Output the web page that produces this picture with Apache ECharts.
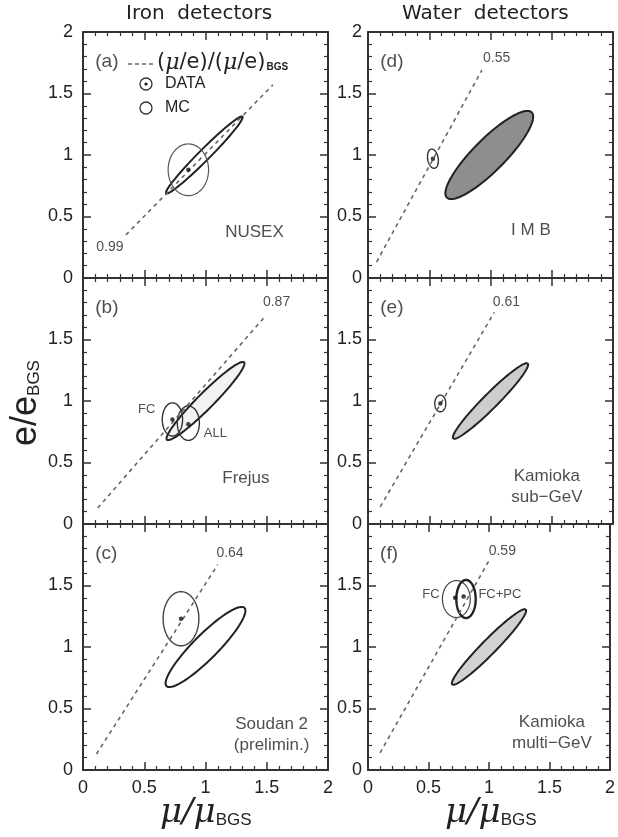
<!DOCTYPE html>
<html>
<head>
<meta charset="utf-8">
<script src="https://cdn.jsdelivr.net/npm/echarts@6/dist/echarts.min.js"></script>
<style>
  html, body { margin: 0; padding: 0; background: #fff; }
  #chart { width: 618px; height: 837px; }
</style>
</head>
<body>
<div id="chart"></div>
<script>
// panels row by row: (a) NUSEX, (d) IMB, (b) Frejus, (e) Kamioka sub-GeV, (c) Soudan 2, (f) Kamioka multi-GeV
var panelLetters = ['(a)', '(d)', '(b)', '(e)', '(c)', '(f)'];
var detectorNames = ['NUSEX', 'I M B', 'Frejus', 'Kamioka\nsub\u2212GeV', 'Soudan 2\n(prelimin.)', 'Kamioka\nmulti\u2212GeV'];
var ratioValues = ['0.99', '0.55', '0.87', '0.61', '0.64', '0.59'];
var axisTicks = [0, 0.5, 1, 1.5, 2];

// dashed (mu/e)/(mu/e)_BGS line: start and end points
var ratioLines = [
  [[0.35, 0.35], [1.55, 1.57]],
  [[0.07, 0.13], [0.93, 1.69]],
  [[0.12, 0.13], [1.48, 1.68]],
  [[0.10, 0.14], [1.03, 1.72]],
  [[0.11, 0.13], [1.10, 1.67]],
  [[0.10, 0.14], [1.01, 1.72]]
];

// MC ellipses: [cx, cy, semi-axis 1, semi-axis 2, angle deg]
var mcEllipses = [
  [0.99, 1.00, 0.44, 0.045, 45],
  [0.99, 1.00, 0.49, 0.13, 45],
  [1.00, 1.00, 0.445, 0.065, 45],
  [1.00, 1.00, 0.43, 0.06, 45],
  [1.00, 1.00, 0.45, 0.10, 45],
  [1.00, 1.00, 0.43, 0.06, 45]
];

// DATA ellipses (one or two per panel)
var dataEllipses = [
  [[0.86, 0.88, 0.165, 0.21, 0]],
  [[0.53, 0.97, 0.043, 0.079, 10]],
  [[0.73, 0.85, 0.083, 0.135, 0], [0.86, 0.82, 0.09, 0.14, 0]],
  [[0.59, 0.98, 0.045, 0.068, 0]],
  [[0.80, 1.23, 0.146, 0.22, 0]],
  [[0.73, 1.39, 0.115, 0.15, 0], [0.81, 1.39, 0.08, 0.155, 0]]
];

// best-fit points
var dataPoints = [
  [[0.86, 0.88]],
  [[0.53, 0.97]],
  [[0.73, 0.85], [0.86, 0.81]],
  [[0.59, 0.98]],
  [[0.80, 1.23]],
  [[0.72, 1.40], [0.79, 1.41]]
];

// ---- layout / styling (not data) ----
var gridLeft = [83, 368];
var gridTop = [32, 278, 524];
var gridSize = 245;
var mcFill = ['none', '#8e8e8e', '#f2f2f2', '#cdcdcd', 'none', '#d2d2d2'];
var dataStroke = [
  [{ c: '#555', w: 1.2 }],
  [{ c: '#333', w: 1.4 }],
  [{ c: '#333', w: 1.4 }, { c: '#333', w: 1.4 }],
  [{ c: '#333', w: 1.4 }],
  [{ c: '#444', w: 1.4 }],
  [{ c: '#444', w: 1.2 }, { c: '#222', w: 2.4 }]
];
// text annotations in data coordinates
var ratioLabelPos = [[0.22, 0.25], [1.05, 1.79], [1.58, 1.80], [1.13, 1.80], [1.20, 1.76], [1.11, 1.78]];
var namePos = [[1.40, 0.37], [1.33, 0.39], [1.33, 0.37], [1.46, 0.30], [1.54, 0.29], [1.52, 0.30]];
var extraNotes = [
  [],
  [],
  [['FC', 0.52, 0.93], ['ALL', 1.08, 0.74]],
  [],
  [],
  [['FC', 0.52, 1.43], ['FC+PC', 1.09, 1.43]]
];

var FONT = 'Liberation Sans';
var INK = '#222';

function ellipseRenderer(fill, stroke, width) {
  return function (params, api) {
    var cx = api.value(0), cy = api.value(1), a = api.value(2), b = api.value(3);
    var ang = api.value(4) * Math.PI / 180;
    var pts = [];
    for (var k = 0; k < 96; k++) {
      var t = k / 96 * Math.PI * 2;
      var ex = a * Math.cos(t), ey = b * Math.sin(t);
      pts.push(api.coord([cx + ex * Math.cos(ang) - ey * Math.sin(ang), cy + ex * Math.sin(ang) + ey * Math.cos(ang)]));
    }
    return {
      type: 'polygon',
      shape: { points: pts },
      style: { fill: fill, stroke: stroke, lineWidth: width }
    };
  };
}

var grids = [], xAxes = [], yAxes = [], series = [];

for (var i = 0; i < 6; i++) {
  var row = Math.floor(i / 2), col = i % 2;
  grids.push({ left: gridLeft[col], top: gridTop[row], width: gridSize, height: gridSize + 1 });

  var tickBase = {
    type: 'value', gridIndex: i, min: 0, max: 2, interval: 0.5,
    axisLine: { show: true, onZero: false, lineStyle: { color: '#333', width: 2 } },
    axisTick: { show: true, inside: true, length: 8, lineStyle: { color: '#333', width: 1.5 } },
    minorTick: { show: true, splitNumber: 5, length: 4, lineStyle: { color: '#333', width: 1.2 } },
    splitLine: { show: false }
  };
  (function (row, col) {
    xAxes.push(Object.assign({}, tickBase, {
      position: 'bottom',
      axisLabel: {
        show: row === 2, margin: 9, color: INK, fontFamily: FONT, fontSize: 18,
        formatter: function (v) { return String(v); }
      }
    }));
    xAxes.push(Object.assign({}, tickBase, { position: 'top', axisLabel: { show: false } }));
    yAxes.push(Object.assign({}, tickBase, {
      position: 'left',
      axisLabel: {
        show: true, margin: col === 0 ? 10 : 6, color: INK, fontFamily: FONT, fontSize: 18,
        formatter: function (v) { return (row > 0 && v === 2) ? '' : String(v); }
      }
    }));
    yAxes.push(Object.assign({}, tickBase, { position: 'right', axisLabel: { show: false } }));
  })(row, col);

  var xi = i * 2, yi = i * 2;

  // MC ellipse
  series.push({
    type: 'custom', xAxisIndex: xi, yAxisIndex: yi, z: 2, silent: true,
    renderItem: ellipseRenderer(mcFill[i], '#222', 2),
    data: [mcEllipses[i]]
  });
  // DATA ellipses
  dataEllipses[i].forEach(function (e, k) {
    series.push({
      type: 'custom', xAxisIndex: xi, yAxisIndex: yi, z: 3, silent: true,
      renderItem: ellipseRenderer('none', dataStroke[i][k].c, dataStroke[i][k].w),
      data: [e]
    });
  });
  // ratio line
  series.push({
    type: 'line', xAxisIndex: xi, yAxisIndex: yi, z: 4, silent: true,
    showSymbol: false, symbol: 'none',
    lineStyle: { color: '#666', width: 1.6, type: [4, 4] },
    data: ratioLines[i]
  });
  // best-fit dots
  series.push({
    type: 'scatter', xAxisIndex: xi, yAxisIndex: yi, z: 5, silent: true,
    symbolSize: 4.5, itemStyle: { color: '#111' },
    data: dataPoints[i]
  });
  // text annotations
  var notes = [
    { value: [0.1, 1.76], label: { formatter: panelLetters[i], fontSize: 19, align: 'left' } },
    { value: ratioLabelPos[i], label: { formatter: ratioValues[i], fontSize: 14 } },
    { value: namePos[i], label: { formatter: detectorNames[i], fontSize: 17, lineHeight: 21 } }
  ];
  extraNotes[i].forEach(function (n) {
    notes.push({ value: [n[1], n[2]], label: { formatter: n[0], fontSize: 13 } });
  });
  series.push({
    type: 'scatter', xAxisIndex: xi, yAxisIndex: yi, z: 6, silent: true,
    symbolSize: 0,
    label: { show: true, position: 'inside', color: INK, fontFamily: FONT },
    data: notes
  });
}

var muRich = {
  m: { fontFamily: 'DejaVu Serif', fontStyle: 'italic', fontSize: 34, fill: INK },
  s: { fontFamily: FONT, fontSize: 17, fill: INK, padding: [14, 0, 0, 0] }
};

var graphics = [
  { type: 'text', left: 126, top: 4, style: { text: 'Iron  detectors', font: '20px "DejaVu Sans"', fill: INK } },
  { type: 'text', left: 402, top: 4, style: { text: 'Water  detectors', font: '20px "DejaVu Sans"', fill: INK } },
  // y axis title, reads bottom to top
  {
    type: 'text', x: 8, y: 446, rotation: Math.PI / 2,
    style: {
      text: '{e|e/e}{s|BGS}',
      rich: {
        e: { fontFamily: FONT, fontSize: 36, fill: INK },
        s: { fontFamily: FONT, fontSize: 17, fill: INK, padding: [16, 0, 0, 0] }
      }
    }
  },
  // x axis titles
  { type: 'text', left: 160, top: 796, style: { text: '{m|\u03bc/\u03bc}{s|BGS}', rich: muRich } },
  { type: 'text', left: 445, top: 796, style: { text: '{m|\u03bc/\u03bc}{s|BGS}', rich: muRich } },
  // legend inside panel (a)
  { type: 'line', shape: { x1: 128, y1: 64, x2: 154, y2: 64 }, style: { stroke: '#666', lineWidth: 1.6, lineDash: [4, 3] } },
  {
    type: 'text', left: 157, top: 52,
    style: {
      text: '{t|(}{m|\u03bc}{t|/e)/(}{m|\u03bc}{t|/e)}{s|BGS}',
      rich: {
        t: { fontFamily: 'DejaVu Sans', fontSize: 21, fill: INK },
        m: { fontFamily: 'DejaVu Serif', fontStyle: 'italic', fontSize: 22, fill: INK },
        s: { fontFamily: FONT, fontSize: 10, fontWeight: 'bold', fill: INK, padding: [9, 0, 0, 1] }
      }
    }
  },
  { type: 'circle', shape: { cx: 146, cy: 84, r: 6 }, style: { fill: 'none', stroke: '#333', lineWidth: 1.3 } },
  { type: 'circle', shape: { cx: 146, cy: 84, r: 1.6 }, style: { fill: '#111' } },
  { type: 'text', left: 165, top: 76, style: { text: 'DATA', font: '16px "Liberation Sans"', fill: INK } },
  { type: 'circle', shape: { cx: 146, cy: 108, r: 6 }, style: { fill: 'none', stroke: '#333', lineWidth: 1.3 } },
  { type: 'text', left: 165, top: 100, style: { text: 'MC', font: '16px "Liberation Sans"', fill: INK } }
];

var chart = echarts.init(document.getElementById('chart'));
chart.setOption({
  animation: false,
  backgroundColor: '#fff',
  grid: grids,
  xAxis: xAxes,
  yAxis: yAxes,
  series: series,
  graphic: graphics
});
</script>
</body>
</html>
